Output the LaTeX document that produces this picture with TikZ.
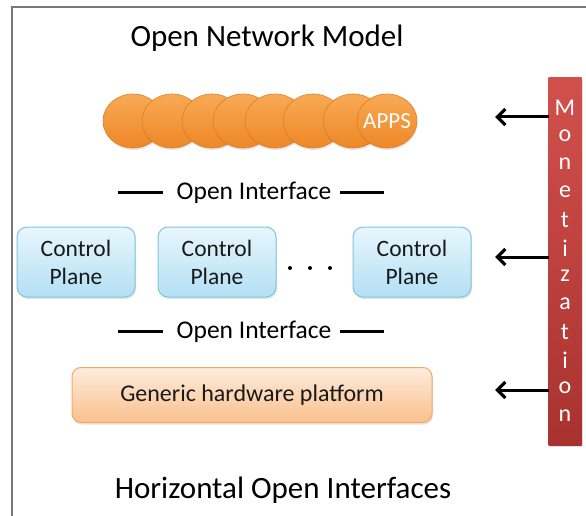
\documentclass[tikz,border=0pt]{standalone}
\usepackage{fontspec}
\setmainfont{Carlito}
\usetikzlibrary{arrows.meta,shadows,shapes.geometric}
\definecolor{frameGray}{RGB}{120,120,120}
\definecolor{appTop}{RGB}{248,170,85}
\definecolor{appBot}{RGB}{238,135,38}
\definecolor{appEdge}{RGB}{225,125,35}
\definecolor{cpTop}{RGB}{232,246,252}
\definecolor{cpBot}{RGB}{178,224,244}
\definecolor{cpEdge}{RGB}{130,196,226}
\definecolor{hwTop}{RGB}{253,236,222}
\definecolor{hwBot}{RGB}{250,192,140}
\definecolor{hwEdge}{RGB}{244,168,100}
\definecolor{monTop}{RGB}{210,80,76}
\definecolor{monBot}{RGB}{168,50,47}
\tikzset{
  app/.style={ellipse, minimum width=60pt, minimum height=54pt, inner sep=0pt,
    draw=appEdge, line width=0.6pt, top color=appTop, bottom color=appBot,
    drop shadow={opacity=0.2, shadow xshift=0.5pt, shadow yshift=-2pt}},
  cpbox/.style={rectangle, rounded corners=10pt, minimum width=118pt, minimum height=70pt,
    draw=cpEdge, line width=1pt, top color=cpTop, bottom color=cpBot, align=center,
    font=\fontsize{23.5}{28}\selectfont, text=black!90,
    drop shadow={opacity=0.2, shadow xshift=1pt, shadow yshift=-2pt}},
  hwbox/.style={rectangle, rounded corners=9pt, minimum width=360pt, minimum height=55pt,
    draw=hwEdge, line width=1pt, top color=hwTop, bottom color=hwBot,
    font=\fontsize{24}{28}\selectfont, text=black!90,
    drop shadow={opacity=0.2, shadow xshift=1pt, shadow yshift=-2pt}},
  monbar/.style={rectangle, minimum width=33pt, minimum height=367pt, inner sep=0pt,
    top color=monTop, bottom color=monBot,
    drop shadow={opacity=0.25, shadow xshift=1pt, shadow yshift=-2pt}},
  monletter/.style={text=white, font=\fontsize{24}{24}\selectfont, inner sep=0pt},
  title/.style={font=\fontsize{31}{36}\selectfont},
  oi/.style={font=\fontsize{25.5}{30}\selectfont},
  oiline/.style={line width=3pt},
  monarrow/.style={line width=3pt, -{Straight Barb[length=8pt,width=16pt,line width=3.2pt]}},
  dotc/.style={circle, fill=black, inner sep=0pt, minimum size=4pt}
}
\begin{document}
\begin{tikzpicture}[x=1pt,y=-1pt]
\useasboundingbox (0,0) rectangle (586,516);
\fill[white] (0,0) rectangle (586,516);
% frame
\coordinate (fbl) at (12,516);
\coordinate (ftl) at (12,7);
\coordinate (ftr) at (586,7);
\draw[frameGray, line width=1.5pt] (fbl) -- (ftl) -- (ftr);

% titles
\node[title] (t1) at (267,38) {Open Network Model};
\node[title] (t2) at (283,490) {Horizontal Open Interfaces};

% apps
\foreach \i/\cx in {1/133,2/172,3/212,4/243,5/275,6/313,7/353,8/387} {
  \node[app] (app\i) at (\cx,121) {};
}
\node[text=white, font=\fontsize{23}{26}\selectfont] (appstext) at (app8) {APPS};

% open interface 1
\node[oi] (oi1) at (254,193) {Open Interface};
\coordinate (oi1a) at (118,192); \coordinate (oi1b) at (163,192);
\coordinate (oi1c) at (340,192); \coordinate (oi1d) at (384,192);
\draw[oiline] (oi1a) -- (oi1b);
\draw[oiline] (oi1c) -- (oi1d);

% control planes
\node[cpbox] (cp1) at (76,262) {Control\\Plane};
\node[cpbox] (cp2) at (217,262) {Control\\Plane};
\node[cpbox] (cp3) at (412,262) {Control\\Plane};
\node[dotc] (d1) at (290,268) {};
\node[dotc] (d2) at (310,268) {};
\node[dotc] (d3) at (330,268) {};

% open interface 2
\node[oi] (oi2) at (254,332) {Open Interface};
\coordinate (oi2a) at (118,331); \coordinate (oi2b) at (163,331);
\coordinate (oi2c) at (340,331); \coordinate (oi2d) at (384,331);
\draw[oiline] (oi2a) -- (oi2b);
\draw[oiline] (oi2c) -- (oi2d);

% hardware
\node[hwbox] (hw) at (252,395) {Generic hardware platform};

% monetization
\node[monbar] (mon) at (565,261.5) {};
\foreach \k/\ch in {0/M,1/o,2/n,3/e,4/t,5/i,6/z,7/a,8/t,9/i,10/o,11/n} {
  \node[monletter] (ml\k) at (565,{108+28*\k}) {\ch};
}
\coordinate (a1s) at (549,117); \coordinate (a1e) at (495,117);
\coordinate (a2s) at (549,257); \coordinate (a2e) at (495,257);
\coordinate (a3s) at (549,390); \coordinate (a3e) at (495,390);
\draw[monarrow] (a1s) -- (a1e);
\draw[monarrow] (a2s) -- (a2e);
\draw[monarrow] (a3s) -- (a3e);
\end{tikzpicture}
\end{document}
